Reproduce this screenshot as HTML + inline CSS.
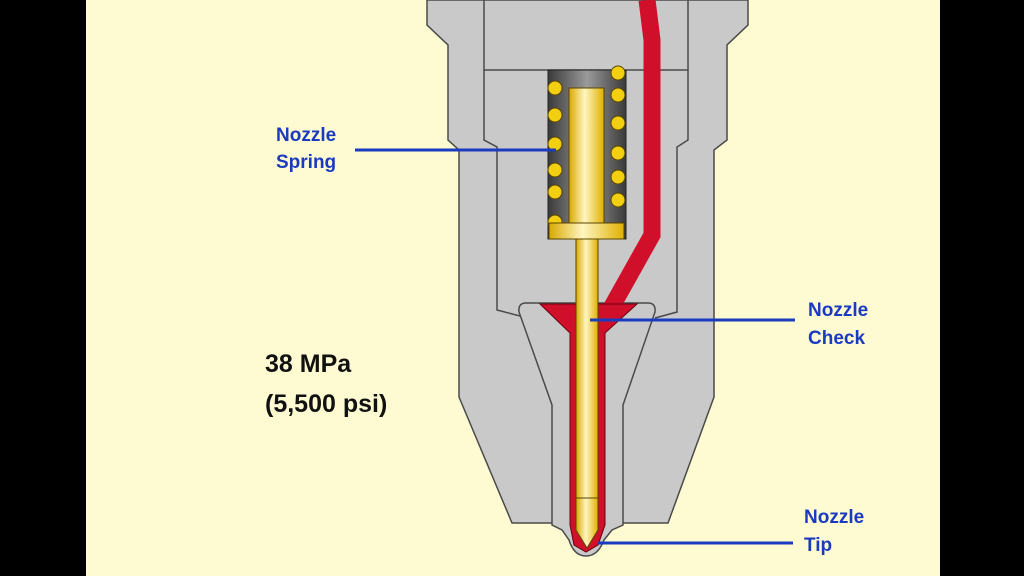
<!DOCTYPE html>
<html><head><meta charset="utf-8"><style>
html,body{margin:0;padding:0;background:#000;}
svg{display:block}
</style></head><body>
<svg width="1024" height="576" viewBox="0 0 1024 576" xmlns="http://www.w3.org/2000/svg">
<defs>
<linearGradient id="yg" x1="0" x2="1" y1="0" y2="0">
<stop offset="0" stop-color="#d9a800"/><stop offset="0.45" stop-color="#fff6c0"/><stop offset="1" stop-color="#e0b000"/>
</linearGradient>
<linearGradient id="dk" x1="0" x2="1" y1="0" y2="0">
<stop offset="0" stop-color="#3a3a3a"/><stop offset="0.5" stop-color="#9a9a9a"/><stop offset="1" stop-color="#3a3a3a"/>
</linearGradient>
</defs>
<rect x="86" y="0" width="854" height="576" fill="#fefbd3"/>
<g stroke="#4a4a4a" stroke-width="1.5" fill="#c9c9c9">
<!-- outer shell -->
<path d="M427,0 L427,25 L448,45 L448,140 L459,150 L459,397 L512,523 L668,523 L714,397 L714,150 L727,140 L727,45 L748,25 L748,0 Z"/>
<!-- inner top piece -->
<path d="M484,0 L484,70 L688,70 L688,0" fill="none"/>
<path d="M484,70 L484,140 L497,147 L497,310 L520,316 M688,70 L688,140 L677,147 L677,312 L655,318" fill="none"/>
<!-- nozzle lower piece -->
<path d="M526,303 L648,303 Q656,303 655,312 L623,405 L623,525 L612,530 L604,540 Q598,556 586,556 Q574,556 569,540 L562,530 L552,525 L552,405 L519,312 Q518,303 526,303 Z"/>
</g>
<!-- red passage -->
<polyline points="647,0 652,40 652,235 610,310" fill="none" stroke="#d0102a" stroke-width="17"/>
<path d="M540,304 L637,304 L605,333 L605,525 L598,545 L586,552 L574,545 L570,525 L570,333 Z" fill="#d0102a" stroke="#6a0010" stroke-width="1"/>
<!-- spring chamber -->
<rect x="548" y="70" width="78" height="169" fill="url(#dk)" stroke="#222"/>
<g fill="#f2cf10" stroke="#5a4500" stroke-width="1">
<circle cx="555" cy="88" r="7"/><circle cx="555" cy="115" r="7"/><circle cx="555" cy="144" r="7"/><circle cx="555" cy="170" r="7"/><circle cx="555" cy="192" r="7"/><circle cx="555" cy="222" r="7"/>
<circle cx="618" cy="73" r="7"/><circle cx="618" cy="95" r="7"/><circle cx="618" cy="123" r="7"/><circle cx="618" cy="153" r="7"/><circle cx="618" cy="177" r="7"/><circle cx="618" cy="200" r="7"/>
</g>
<!-- needle -->
<rect x="569" y="88" width="35" height="136" fill="url(#yg)" stroke="#5a4500"/>
<rect x="549" y="223" width="75" height="16" fill="url(#yg)" stroke="#5a4500"/>
<path d="M576,239 L598,239 L598,530 L587,548 L576,530 Z" fill="url(#yg)" stroke="#5a4500"/>
<line x1="576" y1="498" x2="598" y2="498" stroke="#5a4500"/>
<!-- leader lines -->
<g stroke="#1a3ac0" stroke-width="3">
<line x1="355" y1="150" x2="556" y2="150"/>
<line x1="590" y1="320" x2="795" y2="320"/>
<line x1="598" y1="543" x2="793" y2="543"/>
</g>
<g font-family="Liberation Sans, sans-serif" font-weight="bold">
<g fill="#1a3ac0" font-size="19">
<text x="276" y="141">Nozzle</text><text x="276" y="168">Spring</text>
<text x="808" y="316">Nozzle</text><text x="808" y="344">Check</text>
<text x="804" y="523">Nozzle</text><text x="804" y="551">Tip</text>
</g>
<g fill="#111" font-size="25">
<text x="265" y="372">38 MPa</text><text x="265" y="412">(5,500 psi)</text>
</g>
</g>
</svg>
</body></html>
